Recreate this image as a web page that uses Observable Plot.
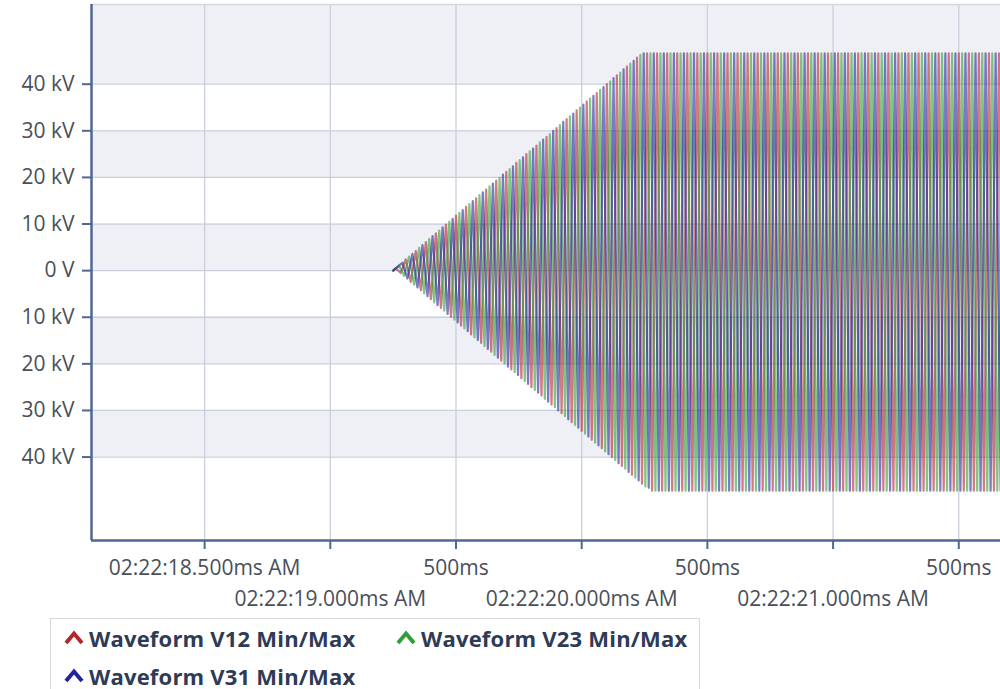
<!DOCTYPE html>
<html>
<head>
<meta charset="utf-8">
<script src="https://cdn.jsdelivr.net/npm/d3@7"></script>
<script src="https://cdn.jsdelivr.net/npm/@observablehq/plot@0.6"></script>
<style>
  html, body { margin: 0; padding: 0; background: #ffffff; }
  body { width: 1000px; height: 689px; overflow: hidden; font-family: "Open Sans", sans-serif; position: relative; }
  #chart svg { display: block; }
  #legend {
    position: absolute; left: 50px; top: 618px; width: 650px; height: 90px;
    border: 1px solid #d6d9de; box-sizing: border-box; padding: 0 0 0 13px;
    display: grid; grid-template-columns: 332px 300px; grid-auto-rows: 38px;
  }
  .item { display: flex; align-items: center; height: 38px;
    font-weight: 700; font-size: 22px; color: #2e3b57; white-space: nowrap; letter-spacing: 0.2px; }
  .item svg { margin-right: 5px; flex: none; }
</style>
</head>
<body>
<div id="chart"></div>
<div id="legend"></div>
<script>
// ---- data ----
const xTicks = [18.5, 19, 19.5, 20, 20.5, 21, 21.5];           // seconds after 02:22:00
const xTickLabels = ["02:22:18.500ms AM", "02:22:19.000ms AM", "500ms", "02:22:20.000ms AM", "500ms", "02:22:21.000ms AM", "500ms"];
const xTickRow = [0, 1, 0, 1, 0, 1, 0];
const xDomain = [18.05, 21.666];

const yTicks = [-40, -30, -20, -10, 0, 10, 20, 30, 40];        // kV
const yTickLabels = ["40 kV", "30 kV", "20 kV", "10 kV", "0 V", "10 kV", "20 kV", "30 kV", "40 kV"];
const yDomain = [-57.9, 57.1];

const bandLow = [40, 20, 0, -20, -40];
const bandHigh = [57.1, 30, 10, -10, -30];

const seriesNames = ["Waveform V12 Min/Max", "Waveform V23 Min/Max", "Waveform V31 Min/Max"];
const seriesColors = ["#b3262b", "#2f9e37", "#23239b"];
const phaseOffsets = [0, 1 / 3, 2 / 3];        // fraction of a cycle
const startTime = 19.25;                        // s, waveform begins at 0 V
const cyclePeriod = 0.04;                       // s between drawn peaks of one phase
// ramp-up peak magnitudes (kV), one per drawn cycle, per phase
const rampV12 = [0.5, 2.4, 4.2, 6.1, 8.0, 9.9, 11.8, 13.7, 15.5, 17.4, 19.3, 21.2, 23.1, 25.0, 26.8, 28.7, 30.6, 32.5, 34.4, 36.3, 38.1, 40.0, 41.9, 43.8, 45.7];
const rampV23 = [1.1, 3.0, 4.9, 6.8, 8.6, 10.5, 12.4, 14.3, 16.2, 18.1, 19.9, 21.8, 23.7, 25.6, 27.5, 29.3, 31.2, 33.1, 35.0, 36.9, 38.8, 40.6, 42.5, 44.4, 46.3];
const rampV31 = [1.7, 3.6, 5.5, 7.4, 9.3, 11.1, 13.0, 14.9, 16.8, 18.7, 20.6, 22.4, 24.3, 26.2, 28.1, 30.0, 31.9, 33.7, 35.6, 37.5, 39.4, 41.3, 43.2, 45.0, 46.6];
const ramps = [rampV12, rampV23, rampV31];
// steady state after the ramp
const flatPeakKv = 46.6;
const flatTroughKv = 47.2;
const flatCycles = 37;

// ---- build table ----
const rows = [];
seriesNames.forEach((name, s) => {
  const peaks = ramps[s].map(a => [a, a]).concat(d3.range(flatCycles).map(() => [flatPeakKv, flatTroughKv]));
  rows.push({series: name, t: startTime, v: 0});
  peaks.forEach(([hi, lo], i) => {
    const base = startTime + (i + phaseOffsets[s]) * cyclePeriod;
    rows.push({series: name, t: base + cyclePeriod * 0.25, v: hi});
    rows.push({series: name, t: base + cyclePeriod * 0.75, v: -lo});
  });
});
const bands = bandLow.map((lo, i) => ({lo, hi: bandHigh[i]}));

const axisColor = "#51678f";
const textColor = "#4a4f59";
const gridColor = "#c9cfdb";

const chart = Plot.plot({
  width: 1000,
  height: 618,
  marginLeft: 91,
  marginRight: 0,
  marginTop: 4,
  marginBottom: 78,
  style: {fontFamily: "Open Sans", fontSize: "21px", color: textColor, background: "#ffffff"},
  x: {type: "linear", domain: xDomain},
  y: {domain: yDomain},
  color: {domain: seriesNames, range: seriesColors},
  marks: [
    Plot.rect(bands, {x1: () => xDomain[0], x2: () => xDomain[1], y1: "lo", y2: "hi", fill: "#eef0f5"}),
    Plot.gridY(yTicks, {stroke: gridColor, strokeOpacity: 1, strokeWidth: 1.3}),
    Plot.gridX(xTicks, {stroke: gridColor, strokeOpacity: 1, strokeWidth: 1.3}),
    Plot.ruleY([yDomain[1]], {stroke: "#d3d7de", strokeWidth: 1.5}),
    Plot.line(rows, {x: "t", y: "v", z: "series", stroke: "series", strokeWidth: 2.2, strokeOpacity: 0.6, clip: true}),
    Plot.ruleX([xDomain[0]], {stroke: axisColor, strokeWidth: 2.5}),
    Plot.ruleY([yDomain[0]], {stroke: axisColor, strokeWidth: 2.5}),
    Plot.axisY({ticks: yTicks, tickFormat: d => yTickLabels[yTicks.indexOf(d)], tickSize: 9, tickPadding: 8,
      stroke: axisColor, strokeWidth: 2, fill: textColor, label: null}),
    Plot.axisX({ticks: xTicks.filter((d, i) => xTickRow[i] === 0), tickFormat: d => xTickLabels[xTicks.indexOf(d)],
      tickSize: 9, tickPadding: 11, stroke: axisColor, strokeWidth: 2, fill: textColor, label: null}),
    Plot.axisX({ticks: xTicks.filter((d, i) => xTickRow[i] === 1), tickFormat: d => xTickLabels[xTicks.indexOf(d)],
      tickSize: 9, tickPadding: 42, stroke: axisColor, strokeWidth: 2, fill: textColor, label: null})
  ]
});
document.getElementById("chart").appendChild(chart);

// legend
const legend = document.getElementById("legend");
seriesNames.forEach((name, i) => {
  const item = document.createElement("div");
  item.className = "item";
  item.innerHTML = `<svg width="20" height="16"><polyline points="2,13 10,3.5 18,13" fill="none" stroke="${seriesColors[i]}" stroke-width="4"/></svg><span>${name}</span>`;
  legend.appendChild(item);
});
</script>
</body>
</html>
